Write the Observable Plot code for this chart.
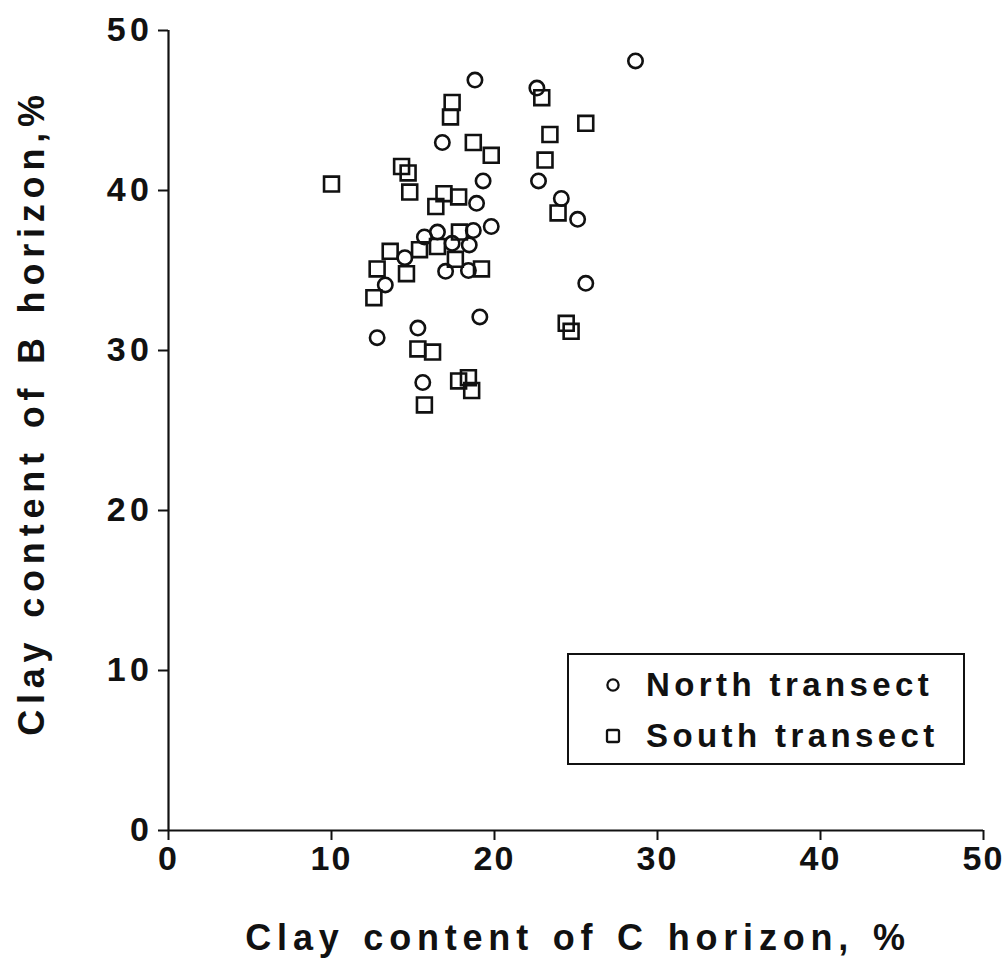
<!DOCTYPE html>
<html>
<head>
<meta charset="utf-8">
<script src="https://cdn.jsdelivr.net/npm/d3@7"></script>
<script src="https://cdn.jsdelivr.net/npm/@observablehq/plot@0.6"></script>
<style>
  html, body { margin: 0; padding: 0; background: #fff; }
  #wrap { position: relative; width: 1006px; height: 972px; font-family: "Liberation Sans", Arial, sans-serif; }
  #legend {
    position: absolute; left: 567px; top: 653px; width: 394px; height: 108px;
    border: 2px solid #111; background: #fff; box-sizing: content-box;
  }
  .lg-row { position: absolute; left: 0; display: flex; align-items: center; font-weight: bold; font-size: 33px; letter-spacing: 4.4px; color: #111; white-space: nowrap; }
  .lg-row svg { margin-left: 36px; margin-right: 25px; }
</style>
</head>
<body>
<div id="wrap"></div>
<script>
// North transect (circles): clay content of C horizon (%) vs B horizon (%)
const northX = [28.65, 18.8, 22.6, 16.8, 19.3, 22.7, 24.1, 18.9, 25.1, 19.8, 18.7, 16.5, 15.7, 17.4, 18.45, 14.5, 17.0, 18.4, 13.3, 25.6, 19.1, 15.3, 12.8, 15.6];
const northY = [48.1, 46.9, 46.4, 43.0, 40.6, 40.6, 39.5, 39.2, 38.2, 37.75, 37.5, 37.4, 37.1, 36.7, 36.6, 35.8, 34.95, 35.0, 34.1, 34.2, 32.1, 31.4, 30.8, 28.0];
// South transect (squares)
const southX = [17.4, 17.3, 18.7, 19.8, 14.3, 14.7, 10.0, 14.8, 16.9, 17.8, 16.4, 22.9, 25.6, 23.4, 23.1, 23.9, 24.4, 24.7, 17.85, 16.5, 15.4, 13.6, 17.6, 12.8, 19.2, 14.6, 12.6, 15.3, 16.2, 17.8, 18.4, 18.6, 15.7];
const southY = [45.5, 44.6, 43.0, 42.2, 41.5, 41.1, 40.4, 39.9, 39.8, 39.6, 39.0, 45.8, 44.2, 43.5, 41.9, 38.6, 31.7, 31.2, 37.4, 36.5, 36.3, 36.2, 35.7, 35.1, 35.1, 34.8, 33.3, 30.1, 29.9, 28.1, 28.3, 27.5, 26.6];
const ticks = [0, 10, 20, 30, 40, 50];
const xTitle = "Clay content of C horizon, %";
const yTitle = "Clay content of B horizon,%";
const seriesNames = ["North transect", "South transect"];

const north = northX.map((x, i) => ({x, y: northY[i]}));
const south = southX.map((x, i) => ({x, y: southY[i]}));

const font = "Liberation Sans, Arial, sans-serif";
const chart = Plot.plot({
  width: 1006,
  height: 972,
  marginLeft: 168,
  marginRight: 23,
  marginTop: 30,
  marginBottom: 142,
  style: {fontFamily: font, fontWeight: "bold", color: "#111", background: "#fff"},
  x: {domain: [0, 50]},
  y: {domain: [0, 50]},
  marks: [
    Plot.axisX({ticks, tickSize: 10, tickPadding: 5, fontSize: 34, fontWeight: "bold", strokeWidth: 2, label: null, fill: "#111"}),
    Plot.axisY({ticks, tickSize: 10, tickPadding: 5, fontSize: 34, fontWeight: "bold", strokeWidth: 2, label: null, fill: "#111"}),
    Plot.ruleX([0], {stroke: "#111", strokeWidth: 2.2}),
    Plot.ruleY([0], {stroke: "#111", strokeWidth: 2.2}),
    Plot.dot(north, {x: "x", y: "y", symbol: "circle", r: 7.2, stroke: "#111", strokeWidth: 2.6, fill: "none"}),
    Plot.dot(south, {x: "x", y: "y", symbol: "square", r: 8.4, stroke: "#111", strokeWidth: 2.6, fill: "none"}),
    Plot.text([xTitle], {frameAnchor: "bottom", textAnchor: "middle", lineAnchor: "middle", dy: 108, dx: 2, fontSize: 36, fontWeight: "bold", fill: "#111", text: d => d}),
    Plot.text([yTitle], {frameAnchor: "left", textAnchor: "middle", lineAnchor: "middle", rotate: -90, dx: -136, dy: -18, fontSize: 36, fontWeight: "bold", fill: "#111", text: d => d})
  ]
});
const svg = d3.select(chart);
svg.selectAll("g[aria-label='y-axis tick label'] text")
  .style("font-size", "34px").style("letter-spacing", "4.5px");
svg.selectAll("g[aria-label='x-axis tick label'] text")
  .style("font-size", "34px").style("letter-spacing", "2px");
svg.selectAll("g[aria-label='text'] text").style("letter-spacing", "5.8px").style("word-spacing", "3px");
const wrap = document.getElementById("wrap");
wrap.appendChild(chart);

const legend = document.createElement("div");
legend.id = "legend";
legend.innerHTML = `
  <div class="lg-row" style="top:11px"><svg width="16" height="16"><circle cx="8" cy="8" r="5.6" fill="none" stroke="#111" stroke-width="2.3"/></svg>${seriesNames[0]}</div>
  <div class="lg-row" style="top:62px"><svg width="16" height="16"><rect x="2" y="2" width="12" height="12" rx="1.5" fill="none" stroke="#111" stroke-width="2.3"/></svg>${seriesNames[1]}</div>`;
wrap.appendChild(legend);
</script>
</body>
</html>
